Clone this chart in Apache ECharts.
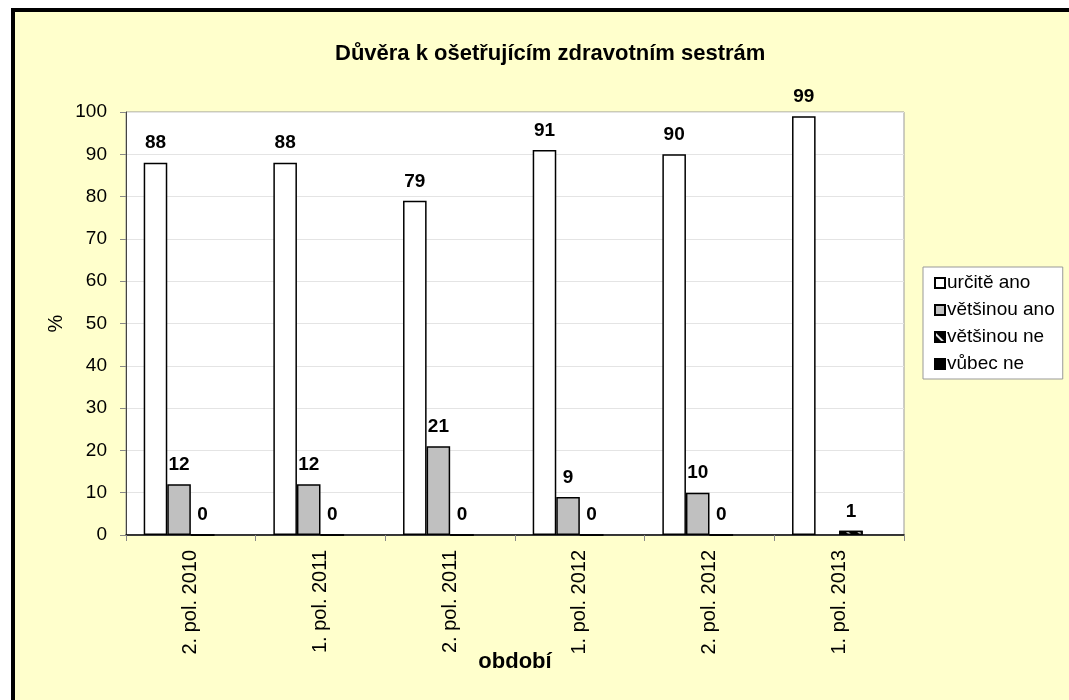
<!DOCTYPE html>
<html><head><meta charset="utf-8">
<script src="https://cdn.jsdelivr.net/npm/echarts@6/dist/echarts.min.js"></script>
<style>
html,body{margin:0;padding:0;background:#fff;overflow:hidden;width:1069px;height:700px;}
#frame{position:absolute;left:11px;top:8px;width:1100px;height:750px;border-left:4px solid #000;border-top:4px solid #000;background:#FFFFCC;}
#chart{position:absolute;left:0;top:0;width:1069px;height:700px;}
</style></head><body>
<div id="frame"></div>
<div id="chart"></div>
<script>
const categories = ['2. pol. 2010','1. pol. 2011','2. pol. 2011','1. pol. 2012','2. pol. 2012','1. pol. 2013'];
const seriesNames = ['určitě ano','většinou ano','většinou ne','vůbec ne'];
const urciteAno = [88, 88, 79, 91, 90, 99];
const vetsinouAno = [12, 12, 21, 9, 10, null];
const vetsinouNe = [0, 0, 0, 0, 0, 1];
const vubecNe = [null, null, null, null, null, null];
const yTicks = [0,10,20,30,40,50,60,70,80,90,100];

const FONT = '"Liberation Sans", Arial, sans-serif';
const chart = echarts.init(document.getElementById('chart'), null, {renderer:'canvas'});
const label = {show:true, position:'top', distance:10, fontFamily:FONT, fontSize:19, fontWeight:'bold', color:'#000'};
const base = {type:'bar', barGap:'0%', barCategoryGap:'27.3%', label:label,
  itemStyle:{borderColor:'#000', borderWidth:1.5}};
chart.setOption({
  backgroundColor:'transparent',
  animation:false,
  title:{text:'Důvěra k ošetřujícím zdravotním sestrám', left:330, top:38,
    textStyle:{fontFamily:FONT, fontSize:22, fontWeight:'bold', color:'#000'}},
  legend:{orient:'vertical', left:923, top:267, data:seriesNames, icon:'rect',
    backgroundColor:'#fff', borderColor:'#999', borderWidth:1, padding:[6,8,5,11],
    itemWidth:10, itemHeight:10, itemGap:7,
    textStyle:{fontFamily:FONT, fontSize:19, lineHeight:20, color:'#000', padding:[0,0,0,-3]}},
  grid:{left:126, right:165, top:112, bottom:165, show:true, backgroundColor:'#fff', borderColor:'#999', borderWidth:1},
  xAxis:{type:'category', data:categories,
    name:'období', nameLocation:'middle', nameGap:116, nameMoveOverlap:false,
    nameTextStyle:{fontFamily:FONT, fontSize:22, fontWeight:'bold', color:'#000'},
    axisLine:{lineStyle:{color:'#000', width:1.5}},
    axisTick:{show:true, length:6, lineStyle:{color:'#888'}},
    axisLabel:{rotate:90, margin:15, fontFamily:FONT, fontSize:20, color:'#000'}},
  yAxis:{type:'value', min:0, max:100, interval:10,
    name:'%', nameLocation:'middle', nameGap:60, nameRotate:90, nameMoveOverlap:false,
    nameTextStyle:{fontFamily:FONT, fontSize:20, color:'#000'},
    axisLine:{show:true, lineStyle:{color:'#444', width:1}},
    axisTick:{show:true, length:6, lineStyle:{color:'#888'}},
    splitLine:{lineStyle:{color:'#E4E4E4'}},
    axisLabel:{margin:19, fontFamily:FONT, fontSize:19, color:'#000',
      formatter:function(v){return yTicks.indexOf(v)>=0? String(v):'';}}},
  series:[
    Object.assign({}, base, {name:seriesNames[0], data:urciteAno, itemStyle:{color:'#fff', borderColor:'#000', borderWidth:1.5}}),
    Object.assign({}, base, {name:seriesNames[1], data:vetsinouAno, itemStyle:{color:'#C0C0C0', borderColor:'#000', borderWidth:1.5}}),
    Object.assign({}, base, {name:seriesNames[2], data:vetsinouNe, itemStyle:{color:'#000', borderColor:'#000', borderWidth:1.5,
      decal:{symbol:'rect', color:'rgba(255,255,255,0.9)', dashArrayX:[1,0], dashArrayY:[2,6], rotation:Math.PI/4}}}),
    Object.assign({}, base, {name:seriesNames[3], data:vubecNe, itemStyle:{color:'#000', borderColor:'#000', borderWidth:1.5}})
  ]
});
</script>
</body></html>
